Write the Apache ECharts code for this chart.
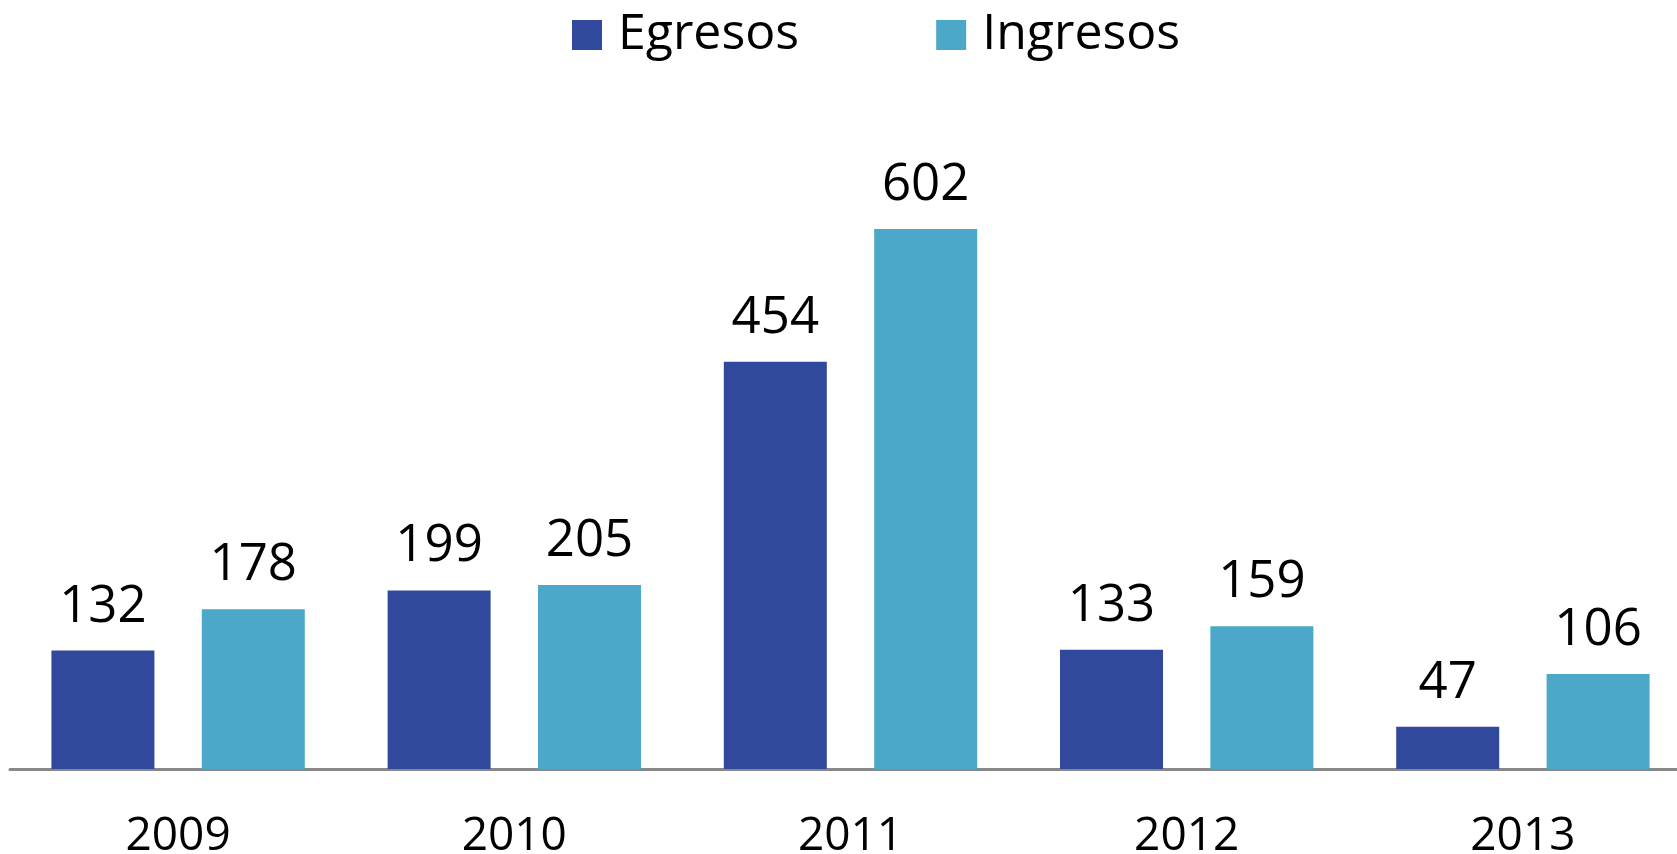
<!DOCTYPE html>
<html>
<head>
<meta charset="utf-8">
<script src="https://cdn.jsdelivr.net/npm/echarts@6/dist/echarts.min.js"></script>
<style>
  html, body { margin: 0; padding: 0; background: #fff; }
  #chart { width: 1677px; height: 854px; }
</style>
</head>
<body>
<div id="chart"></div>
<script>
const years = ['2009', '2010', '2011', '2012', '2013']
const egresos = [132, 199, 454, 133, 47]
const ingresos = [178, 205, 602, 159, 106]

const chart = echarts.init(document.getElementById('chart'))
const font = 'Open Sans'

chart.setOption({
  animation: false,
  legend: {
    data: ['Egresos', 'Ingresos'],
    left: 567,
    top: 5,
    itemWidth: 30,
    itemHeight: 30,
    itemGap: 137,
    icon: 'rect',
    textStyle: { fontFamily: font, fontSize: 50, color: '#000', padding: [0, 0, 0, 11] }
  },
  grid: {
    left: 10,
    width: 1681,
    top: 141,
    bottom: 85,
    outerBoundsMode: 'none'
  },
  xAxis: {
    type: 'category',
    data: years,
    axisTick: { show: false },
    axisLine: { lineStyle: { color: '#888888', width: 3 } },
    axisLabel: { fontFamily: font, fontSize: 46, color: '#000', margin: 45 }
  },
  yAxis: {
    type: 'value',
    min: 0,
    max: 700,
    show: false,
    splitLine: { show: false }
  },
  series: [
    {
      name: 'Egresos',
      type: 'bar',
      data: egresos,
      barWidth: 103,
      barGap: '46%',
      itemStyle: { color: '#30499C' },
      label: { show: true, position: 'top', distance: 18, fontFamily: font, fontSize: 51, color: '#000' }
    },
    {
      name: 'Ingresos',
      type: 'bar',
      data: ingresos,
      barWidth: 103,
      barGap: '46%',
      itemStyle: { color: '#4BA8C9' },
      label: { show: true, position: 'top', distance: 18, fontFamily: font, fontSize: 51, color: '#000' }
    }
  ]
})
</script>
</body>
</html>
